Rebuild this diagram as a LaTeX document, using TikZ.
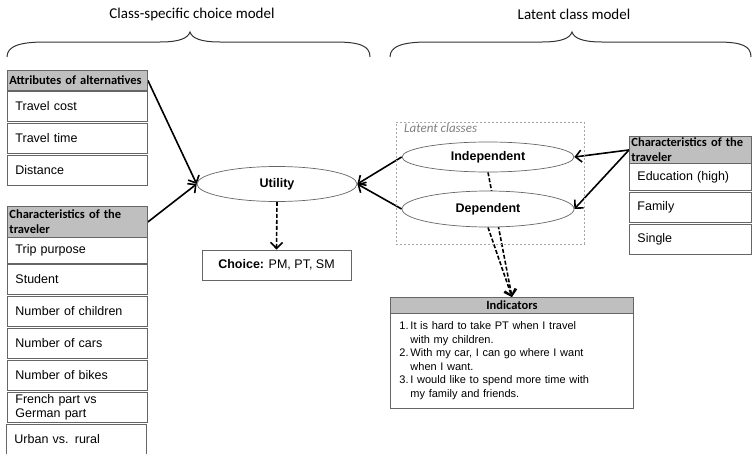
\documentclass[tikz,border=0pt]{standalone}
\usepackage{fontspec}
\setmainfont{Liberation Sans}
\newfontfamily\calibri{Carlito}
\usetikzlibrary{shapes.geometric,arrows.meta,backgrounds}

\begin{document}
\begin{tikzpicture}[x=1pt, y=-1pt,
	cell/.style={draw=black!60, line width=0.9pt, anchor=north west, align=left, text width=124pt, inner xsep=8pt, inner ysep=0pt, minimum height=30pt, font=\fontsize{12.5}{14}\selectfont},
	head/.style={cell, fill=black!25, text width=136pt, inner xsep=2pt, minimum height=20pt, font=\calibri\bfseries\fontsize{12.5}{15}\selectfont},
	oval/.style={draw=black!60, line width=0.7pt, ellipse, fill=white, inner sep=0pt, font=\bfseries\fontsize{12.5}{14}\selectfont},
	title/.style={font=\calibri\fontsize{15}{18}\selectfont},
	arr/.style={line width=1.6pt, -{Straight Barb[length=6pt,width=12pt]}},
	darr/.style={arr, dash pattern=on 4pt off 2pt}]

	\useasboundingbox (0,0) rectangle (752,453);
	\begin{scope}[on background layer]
		\fill[white] (0,0) rectangle (752,453);
	\end{scope}

	% titles and braces
	\node[title] (tcs) at (192,14) {Class-specific choice model};
	\node[title] (tlc) at (574,14) {Latent class model};
	\draw[line width=1pt, black!80] (7,57) .. controls (7,46) and (20,42) .. (45,42) -- (160,42) .. controls (180,42) and (188,38) .. (190,32) .. controls (192,38) and (200,42) .. (220,42) -- (335,42) .. controls (360,42) and (370,46) .. (370,57);
	\draw[line width=1pt, black!80] (390,57) .. controls (390,46) and (403,42) .. (428,42) -- (542,42) .. controls (562,42) and (570,38) .. (572,32) .. controls (574,38) and (582,42) .. (602,42) -- (717,42) .. controls (742,42) and (751,46) .. (751,57);

	% class-specific choice model, left column
	\node[head] (att) at (7,70) {Attributes of alternatives};
	\node[cell] (cost) at (7,91) {Travel cost};
	\node[cell] (time) at (7,123) {Travel time};
	\node[cell] (dist) at (7,155) {Distance};

	\node[head, minimum height=31pt] (chl) at (7,206) {Characteristics of the\\traveler};
	\node[cell, minimum height=26pt] (trip) at (7,237) {Trip purpose};
	\node[cell] (stud) at (7,264) {Student};
	\node[cell] (child) at (7,296) {Number of children};
	\node[cell] (cars) at (7,328) {Number of cars};
	\node[cell] (bikes) at (7,360) {Number of bikes};
	\node[cell, font=\fontsize{12.5}{13.5}\selectfont] (part) at (7,392) {French part vs\\German part};
	\node[cell] (urban) at (6,424) {Urban vs. rural};

	\node[oval, minimum width=160pt, minimum height=35pt] (util) at (277,184) {Utility};
	\node[draw=black!60, line width=0.9pt, minimum width=149pt, minimum height=30pt, font=\fontsize{12.5}{14}\selectfont] (choice) at (276.5,265) {\textbf{Choice:} PM, PT, SM};

	% latent class model
	\node[draw=black!35, line width=0.5pt, dash pattern=on 2pt off 2pt, anchor=north west, minimum width=188pt, minimum height=122pt] (latbox) at (396,122) {};
	\node[anchor=north west, inner sep=0pt, text=black!50, font=\calibri\itshape\fontsize{13}{15}\selectfont] (latlbl) at (404,123) {Latent classes};
	\node[oval, minimum width=172pt, minimum height=30pt] (indep) at (488,157) {Independent};
	\node[oval, minimum width=172pt, minimum height=36pt] (dep) at (488,209) {Dependent};

	\node[head, text width=118pt, minimum height=27pt] (chr) at (629,136) {Characteristics of the\\traveler};
	\node[cell, text width=106pt, minimum height=27pt] (edu) at (629,163) {Education (high)};
	\node[cell, text width=106pt] (fam) at (629,192) {Family};
	\node[cell, text width=106pt] (single) at (629,224) {Single};

	\node[head, text width=239pt, align=center, minimum height=16pt] (indh) at (390,297) {Indicators};
	\node[cell, text width=225pt, inner xsep=9pt, minimum height=95pt, font=\fontsize{11}{13.5}\selectfont] (indl) at (390,313) {%
		\begin{tabular}{@{}p{11pt}@{}l@{}}
		1. & It is hard to take PT when I travel\\
		   & with my children.\\
		2. & With my car, I can go where I want\\
		   & when I want.\\
		3. & I would like to spend more time with\\
		   & my family and friends.
		\end{tabular}};

	% connectors
	\begin{scope}[on background layer]
		\draw[arr] (att.east) -- (util.west);
		\draw[arr] (chl.east) -- (util.west);
		\draw[darr] (util.south) -- (choice.north);
		\draw[arr] (indep.west) -- (util.east);
		\draw[arr] (dep.west) -- (util.east);
		\draw[arr] (chr.west) -- (indep.east);
		\draw[arr] (chr.west) -- (dep.east);
		\draw[darr] (indep.south) -- (indh.north);
		\draw[darr] (dep.south) -- (indh.north);
	\end{scope}
\end{tikzpicture}
\end{document}
